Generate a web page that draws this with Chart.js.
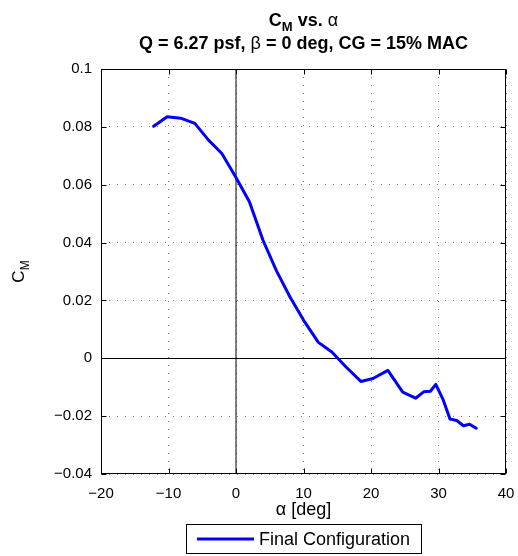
<!DOCTYPE html>
<html>
<head>
<meta charset="utf-8">
<script src="https://cdn.jsdelivr.net/npm/chart.js@4"></script>
<style>
  html, body { margin: 0; padding: 0; background: #fff; }
  #wrap { width: 518px; height: 556px; }
</style>
</head>
<body>
<div id="wrap"><canvas id="c" width="518" height="556"></canvas></div>
<script>
// ---- data ----
const alphaDeg = [-12.2, -10.2, -8.2, -6.1, -4.1, -2.1, 0.0, 2.0, 4.0, 6.0, 8.0, 10.0, 12.2, 14.2, 16.3, 18.5, 20.3, 22.5, 24.7, 26.6, 27.8, 28.8, 29.6, 30.7, 31.7, 32.7, 33.7, 34.6, 35.6];
const cmValues = [0.0802, 0.0835, 0.0830, 0.0812, 0.0755, 0.0708, 0.0625, 0.0540, 0.0408, 0.0302, 0.0212, 0.0132, 0.0055, 0.0022, -0.0030, -0.0080, -0.0070, -0.0042, -0.0117, -0.0138, -0.0116, -0.0114, -0.0090, -0.0144, -0.0210, -0.0215, -0.0233, -0.0228, -0.0242];
const xTicks = [-20, -10, 0, 10, 20, 30, 40];
const yTicks = [-0.04, -0.02, 0, 0.02, 0.04, 0.06, 0.08, 0.1];
const seriesLabel = 'Final Configuration';
const titleLine2 = ['Q = 6.27 psf, ', 'β', ' = 0 deg, CG = 15% MAC'];

const FONT = '"Liberation Sans", Arial, Helvetica, sans-serif';
const fmt = v => String(Number(v.toFixed(4))).replace('-', '\u2212');

const points = alphaDeg.map((a, i) => ({ x: a, y: cmValues[i] }));

const decor = {
  id: 'decor',
  beforeDatasetsDraw(chart) {
    const { ctx, chartArea: a, scales: { x, y } } = chart;
    ctx.save();
    ctx.strokeStyle = '#000';
    ctx.lineWidth = 1;
    const x0 = x.getPixelForValue(0);
    const y0 = y.getPixelForValue(0);
    ctx.beginPath();
    ctx.moveTo(x0, a.top); ctx.lineTo(x0, a.bottom);
    ctx.moveTo(a.left, Math.round(y0) + 0.5); ctx.lineTo(a.right, Math.round(y0) + 0.5);
    ctx.stroke();
    ctx.restore();
  },
  afterDraw(chart) {
    const { ctx, chartArea: a, scales: { x, y } } = chart;
    ctx.save();
    // frame
    ctx.strokeStyle = '#000';
    ctx.lineWidth = 1;
    const L = Math.round(a.left) + 0.5, R = Math.round(a.right) - 0.5;
    const T = Math.round(a.top) + 0.5, B = Math.round(a.bottom) - 0.5;
    ctx.strokeRect(L, T, R - L, B - T);
    // inward ticks
    const tl = 5;
    ctx.beginPath();
    xTicks.forEach(v => {
      const px = Math.round(x.getPixelForValue(v)) + 0.5;
      ctx.moveTo(px, B); ctx.lineTo(px, B - tl);
      ctx.moveTo(px, T); ctx.lineTo(px, T + tl);
    });
    yTicks.forEach(v => {
      const py = Math.round(y.getPixelForValue(v)) + 0.5;
      ctx.moveTo(L, py); ctx.lineTo(L + tl, py);
      ctx.moveTo(R, py); ctx.lineTo(R - tl, py);
    });
    ctx.stroke();

    const cx = (a.left + a.right) / 2;
    ctx.fillStyle = '#000';
    ctx.textBaseline = 'alphabetic';

    // title line 1: C_M vs. alpha
    {
      const fb = 'bold 18px ' + FONT, fs = 'bold 13px ' + FONT, fg = '18px ' + FONT;
      const parts = [['C', fb, 0], ['M', fs, 5], [' vs. ', fb, 0], ['α', fg, 0]];
      let w = 0;
      parts.forEach(p => { ctx.font = p[1]; w += ctx.measureText(p[0]).width; });
      let px = cx - w / 2;
      const base = 26;
      ctx.textAlign = 'left';
      parts.forEach(p => { ctx.font = p[1]; ctx.fillText(p[0], px, base + p[2]); px += ctx.measureText(p[0]).width; });
    }
    // title line 2
    {
      const fb = 'bold 18px ' + FONT, fg = '18px ' + FONT;
      const parts = [[titleLine2[0], fb], [titleLine2[1], fg], [titleLine2[2], fb]];
      let w = 0;
      parts.forEach(p => { ctx.font = p[1]; w += ctx.measureText(p[0]).width; });
      let px = cx - w / 2;
      const base = 49;
      parts.forEach(p => { ctx.font = p[1]; ctx.fillText(p[0], px, base); px += ctx.measureText(p[0]).width; });
    }
    // x axis title
    ctx.font = '18px ' + FONT;
    ctx.textAlign = 'center';
    ctx.fillText('α [deg]', cx, 515);

    // y axis title C_M (rotated)
    {
      ctx.save();
      ctx.translate(24, (a.top + a.bottom) / 2);
      ctx.rotate(-Math.PI / 2);
      ctx.textAlign = 'left';
      const f1 = '17px ' + FONT, f2 = '12px ' + FONT;
      ctx.font = f1; const w1 = ctx.measureText('C').width;
      ctx.font = f2; const w2 = ctx.measureText('M').width;
      let px = -(w1 + w2) / 2;
      ctx.font = f1; ctx.fillText('C', px, 0);
      ctx.font = f2; ctx.fillText('M', px + w1, 5);
      ctx.restore();
    }

    // legend
    {
      const bx = 186.5, by = 524.5, bw = 235, bh = 29;
      ctx.fillStyle = '#fff';
      ctx.fillRect(bx, by, bw, bh);
      ctx.strokeStyle = '#000';
      ctx.lineWidth = 1;
      ctx.strokeRect(bx, by, bw, bh);
      const my = by + bh / 2;
      ctx.strokeStyle = chart.data.datasets[0].borderColor;
      ctx.lineWidth = 3;
      ctx.beginPath();
      ctx.moveTo(197, my); ctx.lineTo(254, my);
      ctx.stroke();
      ctx.fillStyle = '#000';
      ctx.font = '18px ' + FONT;
      ctx.textAlign = 'left';
      ctx.textBaseline = 'middle';
      ctx.fillText(chart.data.datasets[0].label, 259, my + 1);
    }
    ctx.restore();
  }
};

new Chart(document.getElementById('c'), {
  type: 'scatter',
  data: {
    datasets: [{
      label: seriesLabel,
      data: points,
      showLine: true,
      borderColor: '#0000ff',
      backgroundColor: '#0000ff',
      borderWidth: 3,
      pointRadius: 0,
      tension: 0,
      borderJoinStyle: 'round',
      borderCapStyle: 'round'
    }]
  },
  options: {
    responsive: false,
    animation: false,
    devicePixelRatio: 1,
    layout: { padding: { top: 69, right: 12, bottom: 0, left: 0 } },
    plugins: { legend: { display: false }, title: { display: false }, tooltip: { enabled: false } },
    scales: {
      x: {
        type: 'linear',
        min: -20, max: 40,
        afterFit: s => { s.height = 82; s.paddingLeft = 0; s.paddingRight = 0; },
        afterBuildTicks: s => { s.ticks = xTicks.map(v => ({ value: v })); },
        ticks: { callback: v => fmt(v), color: '#000', font: { size: 15, family: FONT }, padding: 11, maxRotation: 0 },
        grid: { color: '#808080', lineWidth: 1, drawTicks: false },
        border: { display: false, dash: [1, 7] }
      },
      y: {
        type: 'linear',
        min: -0.04, max: 0.1,
        afterFit: s => { s.width = 101; s.paddingTop = 0; s.paddingBottom = 0; },
        afterBuildTicks: s => { s.ticks = yTicks.map(v => ({ value: v })); },
        ticks: { callback: v => fmt(v), color: '#000', font: { size: 15, family: FONT }, padding: 9 },
        grid: { color: '#808080', lineWidth: 1, drawTicks: false },
        border: { display: false, dash: [1, 7] }
      }
    }
  },
  plugins: [decor]
});
</script>
</body>
</html>
